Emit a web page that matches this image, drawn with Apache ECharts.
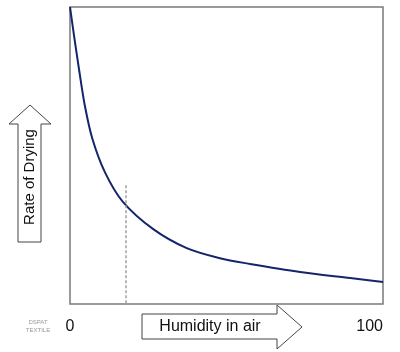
<!DOCTYPE html>
<html>
<head>
<meta charset="utf-8">
<script src="https://cdn.jsdelivr.net/npm/echarts@6/dist/echarts.min.js"></script>
<style>
  html, body { margin: 0; padding: 0; background: #fff; }
  #chart { width: 400px; height: 352px; }
</style>
</head>
<body>
<div id="chart"></div>
<script>
  // humidity (0-100) vs relative rate of drying
  var humidity = [0, 1.4, 3.0, 4.7, 7.1, 11.1, 16.9, 26.6, 37.3, 47.9, 57.5, 73.5, 89.5, 100];
  var dryingRate = [100, 89.5, 78.2, 67.0, 55.8, 44.5, 34.4, 25.2, 18.8, 15.4, 13.5, 10.8, 8.75, 7.4];
  // dashed marker
  var markerX = [17.9, 17.9];
  var markerY = [40, 0];
  var xTicks = [0, 100];
  var yLabel = 'Rate of Drying';
  var xLabel = 'Humidity in air';

  var chart = echarts.init(document.getElementById('chart'));
  var font = 'Liberation Sans, Arial, sans-serif';

  chart.setOption({
    animation: false,
    grid: {
      show: true,
      left: 70, top: 7, right: 17, bottom: 48,
      borderColor: '#7a7a7a',
      borderWidth: 1.5
    },
    xAxis: {
      type: 'value',
      min: xTicks[0], max: xTicks[1], interval: xTicks[1] - xTicks[0],
      axisLine: { show: false },
      axisTick: { show: false },
      splitLine: { show: false },
      axisLabel: {
        margin: 15,
        fontSize: 16,
        color: '#111',
        fontFamily: font,
        alignMinLabel: 'center',
        alignMaxLabel: 'right'
      }
    },
    yAxis: {
      type: 'value',
      min: 0, max: 100,
      axisLine: { show: false },
      axisTick: { show: false },
      splitLine: { show: false },
      axisLabel: { show: false }
    },
    series: [
      {
        type: 'line',
        smooth: 0.3,
        symbol: 'none',
        lineStyle: { color: '#14256b', width: 2 },
        data: humidity.map(function (x, i) { return [x, dryingRate[i]]; })
      },
      {
        type: 'line',
        symbol: 'none',
        lineStyle: { color: '#a0a0a0', width: 1.5, type: [3, 2] },
        data: markerX.map(function (x, i) { return [x, markerY[i]]; })
      }
    ],
    graphic: [
      {
        type: 'polygon',
        shape: { points: [[30, 105], [51, 124], [41, 124], [41, 242], [18, 242], [18, 124], [9, 124]] },
        style: { fill: '#fff', stroke: '#444', lineWidth: 1 }
      },
      {
        type: 'text',
        x: 30, y: 177,
        rotation: Math.PI / 2,
        style: {
          text: yLabel, fontSize: 15, fontFamily: font, fill: '#111',
          align: 'center', verticalAlign: 'middle'
        }
      },
      {
        type: 'polygon',
        shape: { points: [[142, 314], [277, 314], [277, 305], [302, 327], [277, 349], [277, 339], [142, 339]] },
        style: { fill: '#fff', stroke: '#444', lineWidth: 1 }
      },
      {
        type: 'text',
        x: 210, y: 327,
        style: {
          text: xLabel, fontSize: 16, fontFamily: font, fill: '#111',
          align: 'center', verticalAlign: 'middle'
        }
      },
      {
        type: 'text',
        x: 38, y: 326,
        style: {
          text: 'DSPAT\nTEXTILE', fontSize: 6, lineHeight: 8, fontFamily: font, fill: '#999',
          align: 'center', verticalAlign: 'middle'
        }
      }
    ]
  });
</script>
</body>
</html>
